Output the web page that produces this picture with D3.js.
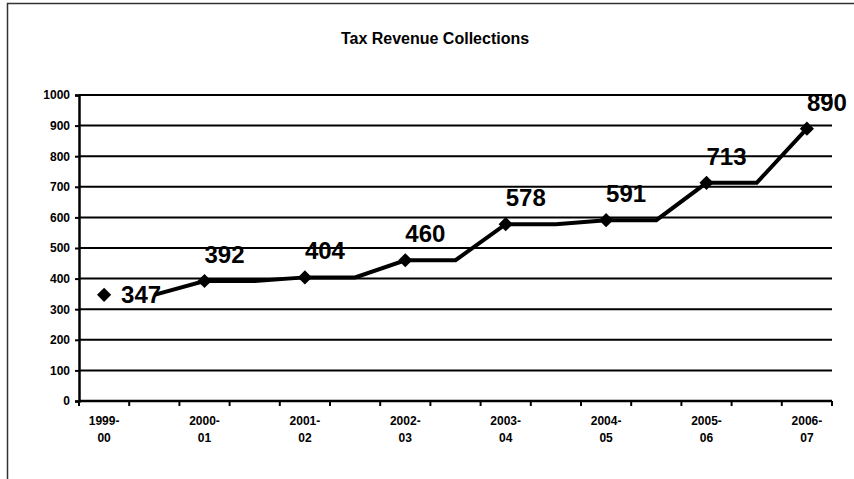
<!DOCTYPE html>
<html>
<head>
<meta charset="utf-8">
<script src="https://cdn.jsdelivr.net/npm/d3@7"></script>
<style>
  html, body { margin: 0; padding: 0; background: #fff; }
  svg { display: block; font-family: "Liberation Sans", Arial, sans-serif; }
</style>
</head>
<body>
<svg id="chart" width="854" height="479"></svg>
<script>
// Fiscal years shown on the category axis
const periods = ["1999-00", "2000-01", "2001-02", "2002-03", "2003-04", "2004-05", "2005-06", "2006-07"];
// Tax revenue collected in each fiscal year
const collections = [347, 392, 404, 460, 578, 591, 713, 890];
// Half-year slots used by the connecting line (the first slot carries no line point)
const lineSlots = [null, 347, 392, 392, 404, 404, 460, 460, 578, 578, 591, 591, 713, 713, 890];
const yTicks = [0, 100, 200, 300, 400, 500, 600, 700, 800, 900, 1000];

const svg = d3.select("#chart");
const W = 854, H = 479;
const plot = { left: 79, right: 832, top: 95, bottom: 401 };

// chart frame
svg.append("path")
  .attr("d", `M7.5,${H} L7.5,3.5 L${W},3.5`)
  .attr("fill", "none").attr("stroke", "#333").attr("stroke-width", 1.5);

svg.append("text")
  .attr("x", 435).attr("y", 44)
  .attr("text-anchor", "middle")
  .attr("font-size", 16).attr("font-weight", "bold")
  .text("Tax Revenue Collections");

const slots = d3.range(lineSlots.length);
const x = d3.scaleBand().domain(slots).range([plot.left, plot.right]).padding(0);
const cx = i => x(i) + x.bandwidth() / 2;
const y = d3.scaleLinear().domain([0, 1000]).range([plot.bottom, plot.top]);

// horizontal gridlines
svg.append("g").selectAll("line").data(yTicks.filter(v => v > 0)).join("line")
  .attr("x1", plot.left).attr("x2", plot.right)
  .attr("y1", d => y(d)).attr("y2", d => y(d))
  .attr("stroke", "#000").attr("stroke-width", 2);

// value axis
const yAxis = svg.append("g").attr("transform", `translate(${plot.left},0)`)
  .call(d3.axisLeft(y).tickValues(yTicks).tickFormat(d3.format("d")).tickSize(4).tickPadding(5));
yAxis.select(".domain").attr("stroke", "#000").attr("stroke-width", 2.5);
yAxis.selectAll(".tick line").attr("stroke", "#000").attr("stroke-width", 2);
yAxis.selectAll(".tick text")
  .attr("font-size", 12).attr("font-weight", "bold").attr("fill", "#000")
  .attr("font-family", "Liberation Sans, Arial, sans-serif");

// category axis with ticks on every slot boundary
const bounds = d3.range(lineSlots.length + 1).map(i => plot.left + i * x.bandwidth());
const xg = svg.append("g");
xg.append("line")
  .attr("x1", plot.left).attr("x2", plot.right)
  .attr("y1", plot.bottom).attr("y2", plot.bottom)
  .attr("stroke", "#000").attr("stroke-width", 2.5);
xg.selectAll("line.tk").data(bounds).join("line").attr("class", "tk")
  .attr("x1", d => d).attr("x2", d => d)
  .attr("y1", plot.bottom).attr("y2", plot.bottom + 5)
  .attr("stroke", "#000").attr("stroke-width", 2);
const xl = xg.selectAll("text").data(periods).join("text")
  .attr("text-anchor", "middle")
  .attr("font-size", 12).attr("font-weight", "bold");
xl.append("tspan").attr("x", (d, i) => cx(i * 2)).attr("y", 425).text(d => d.split("-")[0] + "-");
xl.append("tspan").attr("x", (d, i) => cx(i * 2)).attr("y", 442).text(d => d.split("-")[1]);

// connecting line
const line = d3.line()
  .defined(d => d.v != null)
  .x(d => cx(d.i)).y(d => y(d.v));
svg.append("path")
  .datum(lineSlots.map((v, i) => ({ i, v })))
  .attr("d", line)
  .attr("fill", "none").attr("stroke", "#000")
  .attr("stroke-width", 4).attr("stroke-linejoin", "miter");

// diamond markers
svg.append("g").selectAll("path").data(collections).join("path")
  .attr("d", d3.symbol(d3.symbolSquare, 100))
  .attr("transform", (d, i) => `translate(${cx(i * 2)},${y(d)}) rotate(45)`)
  .attr("fill", "#000");

// value labels
svg.append("g").selectAll("text").data(collections).join("text")
  .attr("font-size", 24).attr("font-weight", "bold")
  .attr("x", (d, i) => cx(i * 2) + (i === 0 ? 17 : 0))
  .attr("y", (d, i) => i === 0 ? y(d) + 8 : y(d) - 18)
  .text(d => d);
</script>
</body>
</html>
